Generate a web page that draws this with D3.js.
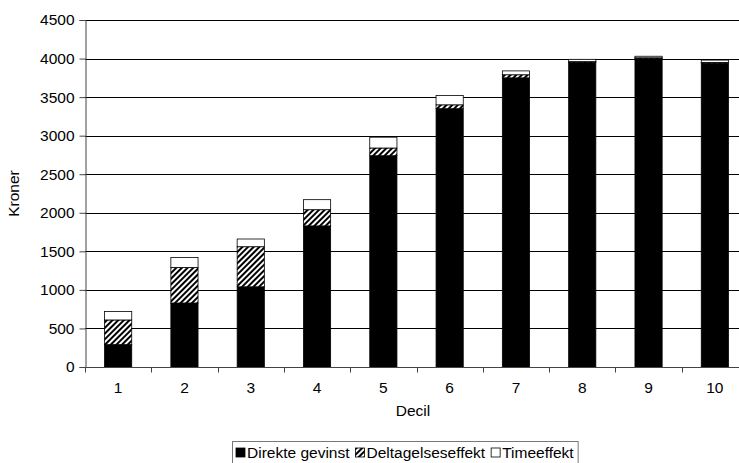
<!DOCTYPE html>
<html>
<head>
<meta charset="utf-8">
<script src="https://cdn.jsdelivr.net/npm/d3@7"></script>
<style>
  html, body { margin: 0; padding: 0; background: #fff; }
  svg { display: block; font-family: "Liberation Sans", Arial, sans-serif; }
</style>
</head>
<body>
<svg id="chart" width="739" height="463"></svg>
<script>
// Decile categories and stacked components (Kroner)
const categories = ["1", "2", "3", "4", "5", "6", "7", "8", "9", "10"];
const direkteGevinst = [290, 830, 1040, 1830, 2740, 3350, 3750, 3950, 4000, 3940];
const deltagelseseffekt = [320, 460, 520, 210, 100, 50, 40, 10, 10, 10];
const timeeffekt = [110, 130, 100, 130, 140, 120, 50, 30, 20, 30];
const seriesNames = ["Direkte gevinst", "Deltagelseseffekt", "Timeeffekt"];
const yTicks = [0, 500, 1000, 1500, 2000, 2500, 3000, 3500, 4000, 4500];

const FONT = 15.5;
const svg = d3.select("#chart");
const plot = { left: 85, right: 748, top: 20, bottom: 367 };

// Hatch fill for the participation effect
const defs = svg.append("defs");
const pat = defs.append("pattern")
  .attr("id", "hatch")
  .attr("patternUnits", "userSpaceOnUse")
  .attr("width", 4).attr("height", 4)
  .attr("patternTransform", "rotate(45)");
pat.append("rect").attr("width", 4).attr("height", 4).attr("fill", "#fff");
pat.append("rect").attr("x", 1).attr("y", 0).attr("width", 2).attr("height", 4)
  .attr("fill", "#000");

const fills = ["#000", "url(#hatch)", "#fff"];

const x = d3.scaleBand()
  .domain(categories)
  .range([plot.left, plot.right])
  .paddingInner(0.59)
  .paddingOuter(0.295);

const y = d3.scaleLinear().domain([0, 4500]).range([plot.bottom, plot.top]);

// Horizontal gridlines
svg.append("g").selectAll("line")
  .data(yTicks.filter(d => d > 0))
  .join("line")
  .attr("x1", plot.left).attr("x2", plot.right)
  .attr("y1", d => Math.round(y(d)) + 0.5).attr("y2", d => Math.round(y(d)) + 0.5)
  .attr("stroke", "#000").attr("stroke-width", 1);

// Stacked bars
const rows = categories.map((c, i) => ({
  cat: c,
  "Direkte gevinst": direkteGevinst[i],
  "Deltagelseseffekt": deltagelseseffekt[i],
  "Timeeffekt": timeeffekt[i]
}));
const stacked = d3.stack().keys(seriesNames)(rows);

svg.append("g").selectAll("g")
  .data(stacked)
  .join("g")
  .attr("fill", (d, i) => fills[i])
  .selectAll("rect")
  .data(d => d)
  .join("rect")
  .attr("x", d => x(d.data.cat))
  .attr("width", x.bandwidth())
  .attr("y", d => y(d[1]))
  .attr("height", d => y(d[0]) - y(d[1]))
  .attr("stroke", "#000")
  .attr("stroke-width", 0.8);

// Y axis
const yAxis = d3.axisLeft(y).tickValues(yTicks).tickSize(6).tickPadding(5).tickFormat(d3.format("d"));
const gy = svg.append("g")
  .attr("transform", `translate(${plot.left + 0.5},0)`)
  .call(yAxis);
gy.select(".domain").attr("stroke", "#444");
gy.selectAll(".tick line").attr("stroke", "#444");
gy.selectAll(".tick text").attr("font-size", FONT).attr("fill", "#000")
  .attr("font-family", "Liberation Sans, Arial, sans-serif");

// X axis: ticks at category boundaries
const gx = svg.append("g").attr("transform", `translate(0,${Math.round(plot.bottom) + 0.5})`);
gx.append("line")
  .attr("x1", plot.left - 4).attr("x2", plot.right)
  .attr("stroke", "#444");
const boundaries = categories.map(c => x(c) - x.step() * x.paddingInner() / 2).concat([plot.right]);
gx.selectAll("line.tb")
  .data(boundaries)
  .join("line")
  .attr("class", "tb")
  .attr("x1", d => Math.round(d) + 0.5).attr("x2", d => Math.round(d) + 0.5)
  .attr("y1", 0).attr("y2", 5)
  .attr("stroke", "#444");
gx.selectAll("text")
  .data(categories)
  .join("text")
  .attr("x", d => x(d) + x.bandwidth() / 2)
  .attr("y", 25)
  .attr("text-anchor", "middle")
  .attr("font-size", FONT)
  .text(d => d);

// Axis titles
svg.append("text")
  .attr("x", 413)
  .attr("y", 416)
  .attr("text-anchor", "middle")
  .attr("font-size", FONT)
  .text("Decil");

svg.append("text")
  .attr("transform", `translate(19,${(plot.top + plot.bottom) / 2}) rotate(-90)`)
  .attr("text-anchor", "middle")
  .attr("font-size", FONT)
  .text("Kroner");

// Legend
const legend = svg.append("g");
const legendBox = legend.append("rect")
  .attr("fill", "#fff").attr("stroke", "#777").attr("stroke-width", 1);
const items = legend.selectAll("g")
  .data(seriesNames)
  .join("g");
const legendY = 458;
let cursor = 0;
items.each(function(name, i) {
  const g = d3.select(this);
  g.append("rect")
    .attr("x", cursor).attr("y", legendY - 10)
    .attr("width", 9).attr("height", 9)
    .attr("fill", fills[i]).attr("stroke", "#000").attr("stroke-width", 0.8);
  const t = g.append("text")
    .attr("x", cursor + 11).attr("y", legendY)
    .attr("font-size", FONT)
    .text(name);
  cursor += 11 + t.node().getComputedTextLength() + 6;
});
const legendW = cursor - 6 + 8;
const legendX = Math.round(405 - legendW / 2);
items.attr("transform", `translate(${legendX + 4},0)`);
legendBox
  .attr("x", legendX + 0.5).attr("y", 441.5)
  .attr("width", legendW).attr("height", 30);
</script>
</body>
</html>
